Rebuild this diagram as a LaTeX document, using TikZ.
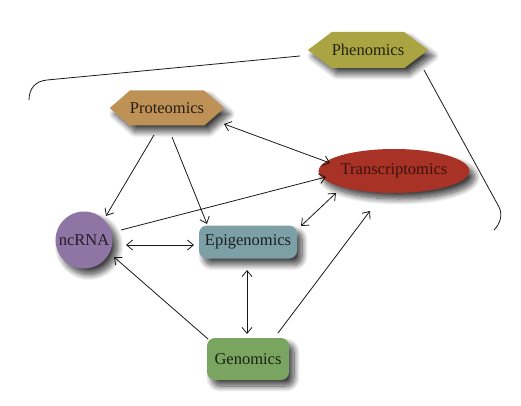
\documentclass[tikz,border=0pt]{standalone}
\usepackage{fontspec}
\setmainfont{Liberation Serif}
\usetikzlibrary{shapes.geometric,shapes.symbols,shapes.misc,arrows.meta,shadows.blur}
\definecolor{cphen}{RGB}{170,165,66}
\definecolor{cprot}{RGB}{190,145,86}
\definecolor{ctran}{RGB}{168,50,38}
\definecolor{cnc}{RGB}{142,117,163}
\definecolor{cepi}{RGB}{125,160,166}
\definecolor{cgen}{RGB}{121,165,96}
\tikzset{
  x=1pt,y=-1pt,
  omic/.style={inner sep=0pt,font=\fontsize{16.5}{18}\selectfont,
    blur shadow={shadow xshift=5pt,shadow yshift=-6pt,shadow blur radius=6pt,shadow blur steps=12,shadow opacity=75}},
  hexbox/.style={omic,signal,signal to=west and east,draw=none},
  conn/.style={line width=0.8pt,draw=black!90,arrows={-Straight Barb[length=6pt,width=10pt,line width=0.8pt]}},
  biconn/.style={conn,arrows={Straight Barb[length=6pt,width=10pt,line width=0.8pt]-Straight Barb[length=6pt,width=10pt,line width=0.8pt]}},
  bracket/.style={line width=0.8pt,draw=black!90}
}
\begin{document}
\begin{tikzpicture}
\useasboundingbox (0,0) rectangle (521,406);
\node[hexbox,fill=cphen,text=black!80!cphen,minimum width=111pt,minimum height=36pt,signal pointer angle=74] (phen) at (368,50) {Phenomics};
\node[hexbox,fill=cprot,text=black!80!cprot,minimum width=109pt,minimum height=35pt,signal pointer angle=82] (prot) at (167,108) {Proteomics};
\node[omic,ellipse,fill=ctran,text=black!65!ctran,minimum width=127pt,minimum height=44pt] (tran) at (394,171) {Transcriptomics};
\node[omic,circle,fill=cnc,text=black!75!cnc,minimum size=57pt] (nc) at (84,240) {ncRNA};
\node[omic,rectangle,rounded corners=8pt,fill=cepi,text=black!80!cepi,minimum width=98pt,minimum height=33pt] (epi) at (248,242) {Epigenomics};
\node[omic,rectangle,rounded corners=8pt,fill=cgen,text=black!80!cgen,minimum width=82pt,minimum height=42pt] (gen) at (248,359) {Genomics};

\coordinate (lend) at (29,100);
\coordinate (rend) at (494,230);
\draw[bracket] ([shift={(-68,6)}]phen.center) -- (47,80) .. controls (36,81) and (29,88) .. (lend);
\draw[bracket] ([shift={(56,20)}]phen.center) -- (499,207) .. controls (503,215) and (500,224) .. (rend);

\draw[conn] ([shift={(-13,27)}]prot.center) -- ([shift={(22,-24)}]nc.center);
\draw[conn] ([shift={(5,29)}]prot.center) -- ([shift={(-41,-18)}]epi.center);
\draw[biconn] ([shift={(57,16)}]prot.center) -- ([shift={(-64,-8)}]tran.center);
\draw[conn] ([shift={(37,-10)}]nc.center) -- ([shift={(-68,6)}]tran.center);
\draw[biconn] ([shift={(42,5)}]nc.center) -- ([shift={(-54,3)}]epi.center);
\draw[biconn] ([shift={(53,-16)}]epi.center) -- ([shift={(-58,22)}]tran.center);
\draw[biconn] ([shift={(-1,28)}]epi.center) -- ([shift={(-1,-25)}]gen.center);
\draw[conn] ([shift={(-40,-20)}]gen.center) -- ([shift={(30,17)}]nc.center);
\draw[conn] ([shift={(30,-26)}]gen.center) -- ([shift={(-24,40)}]tran.center);
\end{tikzpicture}
\end{document}
